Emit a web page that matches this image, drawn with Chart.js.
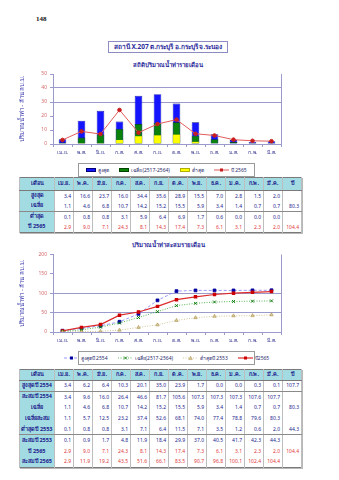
<!DOCTYPE html>
<html><head><meta charset="utf-8">
<script src="https://cdn.jsdelivr.net/npm/chart.js@4.4.0/dist/chart.umd.min.js"></script>
<style>
html,body{margin:0;padding:0;background:#fff;}
body{width:339px;height:480px;position:relative;overflow:hidden;font-family:"Noto Sans","DejaVu Sans",sans-serif;}
.abs{position:absolute;}
#pg{left:36px;top:15px;font-size:7px;font-family:"Liberation Serif",serif;font-weight:bold;color:#111;}
#title{left:108px;top:41px;width:120px;height:12px;border:1px solid #8c8cc0;box-sizing:border-box;color:#2b2b9b;font-weight:bold;font-size:6.5px;line-height:10px;text-align:center;white-space:nowrap;}
.sub{left:68px;width:200px;text-align:center;color:#2b2b9b;font-weight:bold;font-size:6px;line-height:8px;white-space:nowrap;}
.leg{border:1px solid #9a9a9a;box-sizing:border-box;display:flex;align-items:center;justify-content:center;font-size:5px;color:#2a2a6a;white-space:nowrap;}
.leg .it{display:flex;align-items:center;margin:0 5px;}
.leg .sw{display:inline-block;width:10px;height:4px;margin-right:2px;box-sizing:border-box;}
.leg svg{margin-right:2px;}
table.t{position:absolute;border-collapse:collapse;table-layout:fixed;font-size:5px;color:#1c1c8c;border:1px solid #7a7a7a;box-shadow:1px 1px 0 #b8b8b8;}
table.t td,table.t th{border-left:1px solid #bdbdbd;border-right:1px solid #bdbdbd;padding:0 2px 0 0;text-align:right;white-space:nowrap;overflow:hidden;line-height:1;}
table.t th{background:#a3dbe3;font-weight:bold;font-size:5.5px;text-align:center;padding:0;border-bottom:1px solid #7a7a7a;color:#1c1c8c;}
table.t td.lab{background:#a3dbe3;text-align:center;font-weight:bold;font-size:5.5px;padding:0;}
table.t tr.gb td{border-bottom:1px solid #8a8a8a;}
table.t tr.red td{color:#e03a3a;}
table.t tr.red td.lab{color:#1c1c8c;}
</style></head>
<body>
<div id="pg" class="abs">148</div>
<div id="title" class="abs">สถานี X.207 ต.กระบุรี อ.กระบุรี จ.ระนอง</div>
<div class="abs sub" style="top:61px">สถิติปริมาณน้ำท่ารายเดือน</div>
<canvas id="c1" class="abs" style="left:0;top:68px;width:290px;height:91px" width="290" height="91"></canvas>
<div id="leg1" class="abs leg" style="left:78px;top:163px;width:177px;height:14px"></div>
<table id="t1" class="t" style="left:19px;top:177px;width:282px"></table>
<div class="abs sub" style="top:241px">ปริมาณน้ำท่าสะสมรายเดือน</div>
<canvas id="c2" class="abs" style="left:0;top:248px;width:290px;height:99px" width="290" height="99"></canvas>
<div id="leg2" class="abs leg" style="left:78px;top:351px;width:177px;height:14px"></div>
<table id="t2" class="t" style="left:19px;top:369px;width:282px"></table>
<script>
// ---------- data ----------
const months = ['เม.ย.','พ.ค.','มิ.ย.','ก.ค.','ส.ค.','ก.ย.','ต.ค.','พ.ย.','ธ.ค.','ม.ค.','ก.พ.','มี.ค.'];
const maxMonthly = [3.4,16.6,23.7,16.0,34.4,35.6,28.9,15.5,7.0,2.8,1.5,2.0];
const avgMonthly = [1.1,4.6,6.8,10.7,14.2,15.2,15.5,5.9,3.4,1.4,0.7,0.7];
const minMonthly = [0.1,0.8,0.8,3.1,5.9,6.4,6.9,1.7,0.6,0.0,0.0,0.0];
const y2565 = [2.9,9.0,7.1,24.3,8.1,14.3,17.4,7.3,6.1,3.1,2.3,2.0];
const max2554 = [3.4,6.2,6.4,10.3,20.1,35.0,23.9,1.7,0.0,0.0,0.3,0.1];
const cumMax2554 = [3.4,9.6,16.0,26.4,46.6,81.7,105.6,107.3,107.3,107.3,107.6,107.7];
const cumAvg = [1.1,5.7,12.5,23.2,37.4,52.6,68.1,74.0,77.4,78.8,79.6,80.3];
const min2553 = [0.1,0.8,0.8,3.1,7.1,6.4,11.5,7.1,3.5,1.2,0.6,2.0];
const cumMin2553 = [0.1,0.9,1.7,4.8,11.9,18.4,29.9,37.0,40.5,41.7,42.3,44.3];
const cum2565 = [2.9,11.9,19.2,43.5,51.6,66.1,83.5,90.7,96.8,100.1,102.4,104.4];
const totals = {max2554:'107.7', avg:'80.3', min2553:'44.3', y2565:'104.4'};
const yTicks1 = [0,10,20,30,40,50];
const yTicks2 = [0,50,100,150,200];

const AX = '#9a9acd';
Chart.defaults.font.family = '"Noto Sans","DejaVu Sans",sans-serif';
Chart.defaults.animation = false;

const rightBorder = {id:'rb', afterDraw(c){const a=c.chartArea,x=c.ctx;x.save();x.strokeStyle=AX;x.lineWidth=1;x.beginPath();x.moveTo(Math.round(a.right)+0.5,a.top);x.lineTo(Math.round(a.right)+0.5,a.bottom);x.stroke();x.restore();}};

function xScale(){return {offset:true,grid:{offset:true,drawOnChartArea:false,drawTicks:true,tickLength:3,color:AX,tickColor:AX},border:{color:AX,width:1},ticks:{color:'#2b2b8b',font:{size:5},padding:3,maxRotation:0,autoSkip:false},afterFit:s=>{s.height=15;}};}
function yScale(max,step,gl){return {min:0,max:max,afterBuildTicks:s=>{s.ticks=(max===50?yTicks1:yTicks2).map(v=>({value:v}));},
  ticks:{stepSize:step,color:'#d46a6a',font:{size:5},padding:3},
  grid:{color:c=>gl.includes(c.tick&&c.tick.value)?AX:'rgba(0,0,0,0)',tickColor:AX,tickLength:3,drawTicks:true,lineWidth:1},
  border:{color:AX,width:1},
  title:{display:true,text:'ปริมาณน้ำท่า - ล้าน ลบ.ม.',color:'#3333aa',font:{size:6},padding:{top:19,bottom:0}},
  afterFit:s=>{s.width=53;}};}

new Chart(document.getElementById('c1'),{
  type:'bar',
  data:{labels:months,datasets:[
    {label:'สูงสุด',data:maxMonthly,backgroundColor:'#1414ff',borderColor:'#00007a',borderWidth:0.6,order:3},
    {label:'เฉลี่ย(2517-2564)',data:avgMonthly,backgroundColor:'#0a820a',borderColor:'#004400',borderWidth:0.6,order:2},
    {label:'ต่ำสุด',data:minMonthly,backgroundColor:'#ffff00',borderColor:'#b0b000',borderWidth:0.4,order:1},
    {type:'line',label:'ปี 2565',data:y2565,borderColor:'#e25b5b',borderWidth:1,pointRadius:1.8,pointBackgroundColor:'#c81e1e',pointBorderColor:'#c81e1e',order:0,tension:0}
  ]},
  options:{responsive:false,devicePixelRatio:1,
    datasets:{bar:{grouped:false,categoryPercentage:1,barPercentage:0.4}},
    layout:{padding:{top:5,right:9,left:0,bottom:0}},
    plugins:{legend:{display:false},tooltip:{enabled:false}},
    scales:{x:xScale(),y:yScale(50,10,[30,40])}},
  plugins:[rightBorder]
});

new Chart(document.getElementById('c2'),{
  type:'line',
  data:{labels:months,datasets:[
    {label:'ต่ำสุดปี 2553',data:cumMin2553,borderColor:'#c9b67c',borderWidth:0.8,borderDash:[1,1.5],pointStyle:'triangle',pointRadius:2,pointBackgroundColor:'#dccb94',pointBorderColor:'#a8904e',pointBorderWidth:0.6},
    {label:'เฉลี่ย(2517-2564)',data:cumAvg,borderColor:'#2aa82a',borderWidth:0.8,borderDash:[1,1.5],pointStyle:'crossRot',pointRadius:2,pointBorderColor:'#0a780a',pointBorderWidth:1},
    {label:'ปี2565',data:cum2565,borderColor:'#dc2c2c',borderWidth:1.2,pointStyle:'rect',pointRadius:1.6,pointBackgroundColor:'#cc0000',pointBorderColor:'#cc0000'},
    {label:'สูงสุดปี 2554',data:cumMax2554,borderColor:'#8080ff',borderWidth:0.8,borderDash:[3,2],pointStyle:'rect',pointRadius:2,pointBackgroundColor:'#0000a0',pointBorderColor:'#0000a0'}
  ]},
  options:{responsive:false,devicePixelRatio:1,
    layout:{padding:{top:6.5,right:9,left:0,bottom:0}},
    plugins:{legend:{display:false},tooltip:{enabled:false}},
    scales:{x:xScale(),y:yScale(200,50,[50,100])}},
  plugins:[rightBorder]
});

// ---------- legends ----------
function barSw(bg,bd){return '<span class="sw" style="background:'+bg+';border:0.6px solid '+bd+'"></span>';}
function lineSw(col,dash,mark,mcol,w){
  let m='';
  if(mark==='rect') m='<rect x="6" y="1.5" width="3" height="3" fill="'+mcol+'"/>';
  if(mark==='cross') m='<path d="M6 1.5L9 4.5M9 1.5L6 4.5" stroke="'+mcol+'" stroke-width="0.9"/>';
  if(mark==='tri') m='<path d="M7.5 1.2L9.3 4.6L5.7 4.6Z" fill="#dccb94" stroke="'+mcol+'" stroke-width="0.5"/>';
  return '<svg width="15" height="6"><line x1="0" y1="3" x2="15" y2="3" stroke="'+col+'" stroke-width="'+w+'" '+(dash?'stroke-dasharray="'+dash+'"':'')+'/>'+m+'</svg>';
}
document.getElementById('leg1').innerHTML=
  '<span class="it">'+barSw('#1414ff','#00007a')+'สูงสุด</span>'+
  '<span class="it">'+barSw('#0a820a','#004400')+'เฉลี่ย(2517-2564)</span>'+
  '<span class="it">'+barSw('#ffff00','#b0b000')+'ต่ำสุด</span>'+
  '<span class="it">'+lineSw('#e25b5b','', 'rect','#c81e1e',1)+'ปี 2565</span>';
document.getElementById('leg2').innerHTML=
  '<span class="it">'+lineSw('#8080ff','3,2','rect','#0000a0',0.8)+'สูงสุดปี 2554</span>'+
  '<span class="it">'+lineSw('#2aa82a','1,1.5','cross','#0a780a',0.8)+'เฉลี่ย(2517-2564)</span>'+
  '<span class="it">'+lineSw('#c9b67c','1,1.5','tri','#a8904e',0.8)+'ต่ำสุดปี 2553</span>'+
  '<span class="it">'+lineSw('#dc2c2c','','rect','#cc0000',1.2)+'ปี2565</span>';

// ---------- tables ----------
function buildTable(id,rows,headH,rowH){
  const t=document.getElementById(id);
  let h='<colgroup><col style="width:35px">'+months.map(()=>'<col style="width:19px">').join('')+'<col style="width:19px"></colgroup>';
  h+='<tr style="height:'+headH+'px"><th>เดือน</th>'+months.map(m=>'<th>'+m+'</th>').join('')+'<th>ปี</th></tr>';
  rows.forEach(r=>{
    h+='<tr class="'+(r.gb?'gb ':'')+(r.red?'red':'')+'" style="height:'+rowH+'px"><td class="lab">'+r.label+'</td>'+
      r.vals.map(v=>'<td>'+v.toFixed(1)+'</td>').join('')+'<td>'+(r.total||'')+'</td></tr>';
  });
  t.innerHTML=h;
}
buildTable('t1',[
  {label:'สูงสุด',vals:maxMonthly},
  {label:'เฉลี่ย',vals:avgMonthly,total:totals.avg,gb:true},
  {label:'ต่ำสุด',vals:minMonthly},
  {label:'ปี 2565',vals:y2565,total:totals.y2565,red:true}
],13,10.5);
buildTable('t2',[
  {label:'สูงสุดปี 2554',vals:max2554,total:totals.max2554,gb:true},
  {label:'สะสมปี 2554',vals:cumMax2554},
  {label:'เฉลี่ย',vals:avgMonthly,total:totals.avg},
  {label:'เฉลี่ยสะสม',vals:cumAvg},
  {label:'ต่ำสุดปี 2553',vals:min2553,total:totals.min2553,gb:true},
  {label:'สะสมปี 2553',vals:cumMin2553},
  {label:'ปี 2565',vals:y2565,total:totals.y2565,red:true},
  {label:'สะสมปี 2565',vals:cum2565,red:true}
],11,10.9);
</script>
</body></html>
